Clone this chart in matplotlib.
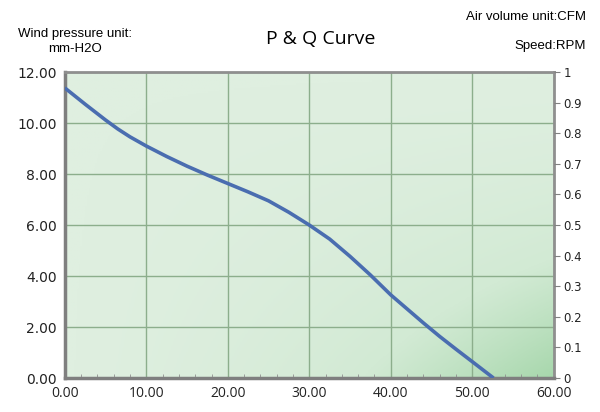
import numpy as np
import matplotlib.pyplot as plt
from matplotlib.colors import LinearSegmentedColormap

# P-Q curve points
air_flow = [0.0, 2.5, 5.0, 6.5, 8.0, 10.0, 12.5, 15.0, 17.5, 20.0, 22.5, 25.0,
            27.5, 30.0, 32.5, 35.0, 37.5, 40.0, 42.0, 44.0, 46.0, 48.0, 50.0, 52.6]
pressure = [11.38, 10.74, 10.12, 9.77, 9.46, 9.1, 8.69, 8.31, 7.96, 7.63, 7.3, 6.95,
            6.5, 6.0, 5.45, 4.77, 4.04, 3.26, 2.71, 2.16, 1.63, 1.13, 0.64, 0.0]

x_ticks = [0, 10, 20, 30, 40, 50, 60]
y_ticks = [0, 2, 4, 6, 8, 10, 12]
right_ticks = [0, 0.1, 0.2, 0.3, 0.4, 0.5, 0.6, 0.7, 0.8, 0.9, 1]

fig = plt.figure(figsize=(6, 4.12), dpi=100)
ax = fig.add_axes([0.108, 0.0825, 0.815, 0.7425])

# background gradient, darker green towards the bottom right
u = np.linspace(0, 1, 300)
v = np.linspace(0, 1, 200)
U, V = np.meshgrid(u, v)
shade = (U * V) ** 1.4
cmap = LinearSegmentedColormap.from_list("bg", ["#dfefe0", "#d2eAd4", "#a7d7ac"])
ax.imshow(shade, cmap=cmap, extent=[0, 60, 0, 12], origin="upper",
          aspect="auto", zorder=0, vmin=0, vmax=1)

ax.set_xlim(0, 60)
ax.set_ylim(0, 12)
ax.set_xticks(x_ticks)
ax.set_xticklabels([f"{t:.2f}" for t in x_ticks], fontsize=10,
                   family="Open Sans", color="#222222")
ax.set_yticks(y_ticks)
ax.set_yticklabels([f"{t:.2f}" for t in y_ticks], fontsize=10, color="#222222")
ax.set_xticks(np.arange(0, 61, 2), minor=True)
ax.tick_params(axis="x", which="minor", direction="in", length=3, color="#909090")
ax.tick_params(axis="x", which="major", length=0, pad=6)
ax.tick_params(axis="y", length=0, pad=6)

ax.grid(True, color="#8cae8c", linewidth=1.0, zorder=1)
for side in ["left", "bottom"]:
    ax.spines[side].set_linewidth(2.5)
    ax.spines[side].set_color("#7f7f7f")
for side in ["top", "right"]:
    ax.spines[side].set_linewidth(2)
    ax.spines[side].set_color("#8f8f8f")

ax.plot(air_flow, pressure, color="#4a6db0", linewidth=2.6, zorder=3,
        solid_capstyle="butt", solid_joinstyle="round")

ax2 = ax.twinx()
ax2.set_ylim(0, 1)
ax2.set_yticks(right_ticks)
ax2.set_yticklabels([f"{t:g}" for t in right_ticks], fontsize=8.5, color="#222222")
ax2.tick_params(axis="y", length=4, color="#808080", pad=3)
for s in ax2.spines.values():
    s.set_visible(False)

fig.text(0.125, 0.918, "Wind pressure unit:", ha="center", va="center",
         fontsize=9.5, family="Liberation Sans")
fig.text(0.125, 0.882, "mm-H2O", ha="center", va="center",
         fontsize=9.5, family="Liberation Sans")
fig.text(0.535, 0.905, "P & Q Curve", ha="center", va="center",
         fontsize=14, family="Open Sans")
fig.text(0.977, 0.958, "Air volume unit:CFM", ha="right", va="center",
         fontsize=9.5, family="Liberation Sans")
fig.text(0.977, 0.888, "Speed:RPM", ha="right", va="center",
         fontsize=9.5, family="Liberation Sans")

fig.savefig("out.png", dpi=100)
